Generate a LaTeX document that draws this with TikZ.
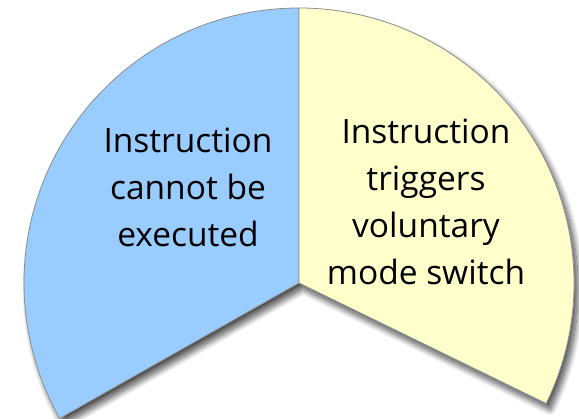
\documentclass[tikz,border=0pt]{standalone}
\usepackage{fontspec}
\setmainfont{Open Sans}
\usetikzlibrary{shadows.blur}
\definecolor{trapblue}{HTML}{99CCFF}
\definecolor{trapyellow}{HTML}{FFFFCC}

\begin{document}
\begin{tikzpicture}[x=1pt,y=1pt,
  sector/.style={draw=black!45, line width=0.8pt, fill=#1},
  sectortext/.style={font=\fontsize{33.5}{47}\selectfont, align=center,
                     inner sep=0pt, anchor=base}
]
  \useasboundingbox (0,0) rectangle (579,419);
  \coordinate (hub) at (299,136);

  % soft shadow under the whole pie
  \fill[white, blur shadow={shadow xshift=4pt, shadow yshift=-6pt,
        shadow blur steps=12, shadow blur radius=6pt, shadow opacity=70}]
    (hub) -- ++(-26:275) arc[start angle=-26, end angle=209.5, radius=275] -- cycle;

  % left sector
  \draw[sector=trapblue] (hub) -- ++(90:275)
    arc[start angle=90, end angle=209.5, radius=275] -- cycle;
  % right sector
  \draw[sector=trapyellow] (hub) -- ++(-26:275)
    arc[start angle=-26, end angle=90, radius=275] -- cycle;

  \node[sectortext] (blocked) at (188,172)
    {Instruction\\cannot be\\executed};
  \node[sectortext] (voluntary) at (426,134)
    {Instruction\\triggers\\voluntary\\mode switch};
\end{tikzpicture}
\end{document}
